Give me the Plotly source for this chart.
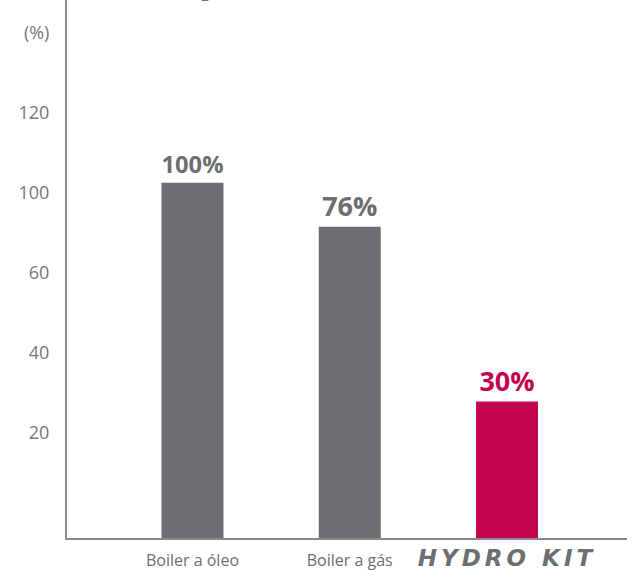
import plotly.graph_objects as go

# Data
categories = ["Boiler a óleo", "Boiler a gás", "HYDRO KIT"]
category_labels = ["Boiler a óleo", "Boiler a gás",
                   "<span style=\"font-family:'DejaVu Sans';font-size:23px;letter-spacing:4px\"><b><i>HYDRO KIT</i></b></span>"]
bar_heights = [88.8, 77.8, 34.1]          # drawn bar heights on the axis scale
value_labels = ["100%", "76%", "30%"]
bar_colors = ["#6d6e71", "#6d6e71", "#c3034f"]
tick_positions = [26.3, 46.3, 66.3, 86.3, 106.3, 126.3]
tick_labels = ["20", "40", "60", "100", "120", "(%)"]

fig = go.Figure()
fig.add_trace(go.Bar(
    x=categories,
    y=bar_heights,
    marker=dict(color=bar_colors, line=dict(width=0)),
    width=0.394,
    text=value_labels,
    textposition="outside",
    textfont=dict(family="Open Sans", size=27, color=bar_colors, weight="bold"),
    cliponaxis=False,
    hoverinfo="skip",
))

fig.add_annotation(
    x=0.08, y=1, xref="x", yref="paper",
    text="2", showarrow=False, yanchor="bottom", yshift=-7,
    font=dict(family="Open Sans", size=14, color="#6d6e71"),
)

fig.update_layout(
    width=627, height=571,
    margin=dict(l=67, r=0, t=0, b=33),
    paper_bgcolor="white", plot_bgcolor="white",
    showlegend=False,
    font=dict(family="Open Sans", color="#777777"),
)
fig.update_xaxes(
    type="category",
    range=[-0.798, 2.763],
    tickvals=categories, ticktext=category_labels,
    tickfont=dict(size=16, color="#6d6e71"),
    showline=True, linecolor="#8a8a8a", linewidth=2,
    showgrid=False, ticks="", ticklabelstandoff=7,
)
fig.update_yaxes(
    range=[0, 134.5],
    tickvals=tick_positions, ticktext=tick_labels,
    tickfont=dict(size=18, color="#777777"),
    showline=True, linecolor="#8a8a8a", linewidth=2,
    showgrid=False, zeroline=False, ticks="", ticklabelstandoff=12,
)

fig.write_html("out.html",
               config={"displayModeBar": False},
               post_script="document.body.style.margin='0';document.body.style.overflow='hidden';")
